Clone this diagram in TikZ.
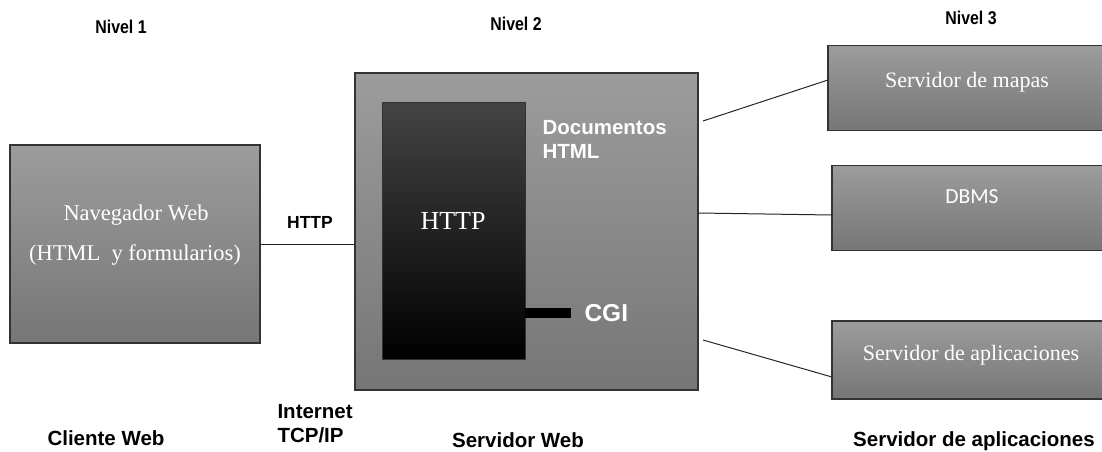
\documentclass[tikz,border=0pt]{standalone}
\usepackage{fontspec}
\setmainfont{Liberation Serif}
\newfontfamily\arialf{Liberation Sans}
\newfontfamily\narrowf[FakeStretch=0.86]{Liberation Sans}
\newfontfamily\carlitof{Carlito}
\usetikzlibrary{calc}
\definecolor{boxtop}{HTML}{9C9C9C}
\definecolor{boxbot}{HTML}{767676}
\definecolor{edgec}{HTML}{333333}
\definecolor{blacktop}{HTML}{444444}
\tikzset{
  graybox/.style={draw=edgec, line width=1.4pt, top color=boxtop, bottom color=boxbot, inner sep=0pt},
  blackbox/.style={draw=edgec, line width=1pt, top color=blacktop, middle color=black, bottom color=black, inner sep=0pt},
  serifw/.style={text=white, font=\fontsize{22.5}{27}\selectfont},
  lvl/.style={font=\narrowf\bfseries\fontsize{18.5}{22}\selectfont},
  blab/.style={font=\arialf\bfseries\fontsize{20.5}{24}\selectfont, align=left},
  conn/.style={draw=black!85, line width=1pt},
}
\begin{document}
\begin{tikzpicture}[x=1pt,y=-1pt]
\useasboundingbox (0,0) rectangle (1102,452);
% level labels
\node[lvl] (n1) at (121,27) {Nivel 1};
\node[lvl] (n2) at (516,24) {Nivel 2};
\node[lvl] (n3) at (971,18) {Nivel 3};
% client box
\node[graybox, minimum width=250pt, minimum height=198pt] (nav) at (135,244) {};
\node[serifw] (navt1) at (136,215) {Navegador Web};
\node[serifw] (navt2) at (135,255) {(HTML\ \ y formularios)};
% server box
\node[graybox, minimum width=343pt, minimum height=317pt] (srv) at (526.5,231.5) {};
\node[blackbox, minimum width=143pt, minimum height=257pt] (http) at (453.5,230.5) {};
\node[text=white, font=\fontsize{26}{30}\selectfont] (httpt) at (453,221) {HTTP};
\node[draw=none, fill=black, minimum width=46pt, minimum height=10pt, inner sep=0pt] (cgibar) at (548,313) {};
\node[text=white, font=\arialf\bfseries\fontsize{24.5}{28}\selectfont, anchor=west] (cgi) at (581,313) {CGI};
\node[text=white, font=\arialf\bfseries\fontsize{20.5}{24}\selectfont, align=left, anchor=north west] (docs) at (539,117) {Documentos\\HTML};
% right boxes
\node[graybox, minimum width=278pt, minimum height=85pt] (map) at (967,88) {};
\node[text=white, font=\fontsize{22}{26}\selectfont] (mapt) at (967,82) {Servidor de mapas};
\node[graybox, minimum width=274pt, minimum height=85pt] (dbms) at (969,208) {};
\node[text=white, font=\carlitof\fontsize{21.5}{25}\selectfont] (dbmst) at (972,197) {DBMS};
\node[graybox, minimum width=274pt, minimum height=78pt] (app) at (969,360) {};
\node[text=white, font=\fontsize{22}{26}\selectfont] (appt) at (971,355) {Servidor de aplicaciones};
% connectors
\draw[conn] (nav.east) -- (srv.west |- nav.east);
\node[font=\arialf\bfseries\fontsize{17.5}{20}\selectfont] (httpl) at (310,222) {HTTP};
\coordinate (s1) at (703,121);
\coordinate (s2) at (698,213);
\coordinate (s3) at (703,340);
\coordinate (e1) at (828,80);
\coordinate (e2) at (832,215);
\coordinate (e3) at (832,377);
\draw[conn] (s1) -- (e1);
\draw[conn] (s2) -- (e2);
\draw[conn] (s3) -- (e3);
% bottom labels
\node[blab] (cli) at (106,438) {Cliente Web};
\node[blab, anchor=north west, font=\arialf\bfseries\fontsize{20.5}{24}\selectfont] (inet) at (274,401) {Internet\\TCP/IP};
\node[blab] (sw) at (518,440) {Servidor Web};
\node[blab] (sa) at (974,441) {Servidor de aplicaciones};
\end{tikzpicture}
\end{document}
